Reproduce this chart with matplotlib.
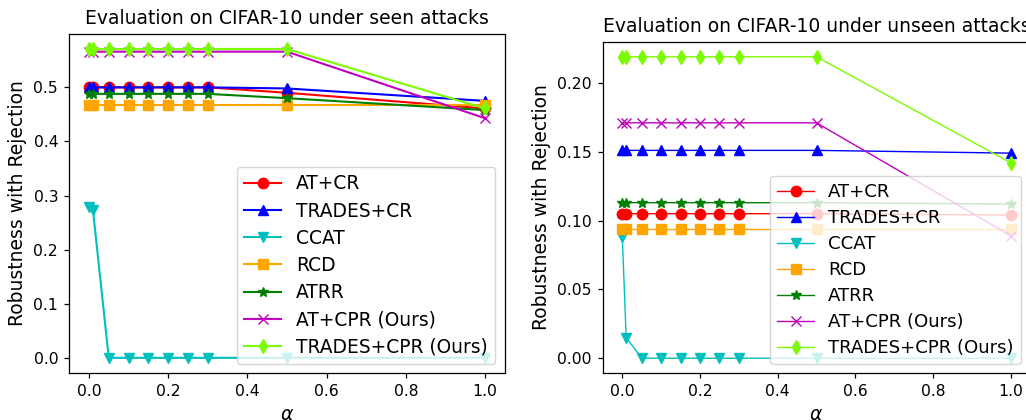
import numpy as np
import matplotlib
matplotlib.use('Agg')
import matplotlib.pyplot as plt

# alpha values on the x axis
alphas = [0, 0.01, 0.05, 0.1, 0.15, 0.2, 0.25, 0.3, 0.5, 1.0]

methods = ['AT+CR', 'TRADES+CR', 'CCAT', 'RCD', 'ATRR', 'AT+CPR (Ours)', 'TRADES+CPR (Ours)']

# seen attacks
seen_at_cr = [0.500, 0.500, 0.500, 0.500, 0.500, 0.500, 0.500, 0.500, 0.490, 0.461]
seen_trades_cr = [0.500, 0.500, 0.500, 0.500, 0.500, 0.500, 0.500, 0.500, 0.498, 0.475]
seen_ccat = [0.279, 0.274, 0.0, 0.0, 0.0, 0.0, 0.0, 0.0, 0.0, 0.0]
seen_rcd = [0.467, 0.467, 0.467, 0.467, 0.467, 0.467, 0.467, 0.467, 0.467, 0.467]
seen_atrr = [0.488, 0.488, 0.488, 0.488, 0.488, 0.488, 0.488, 0.488, 0.480, 0.458]
seen_at_cpr = [0.566, 0.566, 0.566, 0.566, 0.566, 0.566, 0.566, 0.566, 0.566, 0.443]
seen_trades_cpr = [0.571, 0.571, 0.571, 0.571, 0.571, 0.571, 0.571, 0.571, 0.571, 0.461]

# unseen attacks
unseen_at_cr = [0.105, 0.105, 0.105, 0.105, 0.105, 0.105, 0.105, 0.105, 0.105, 0.104]
unseen_trades_cr = [0.151, 0.151, 0.151, 0.151, 0.151, 0.151, 0.151, 0.151, 0.151, 0.149]
unseen_ccat = [0.088, 0.015, 0.0, 0.0, 0.0, 0.0, 0.0, 0.0, 0.0, 0.0]
unseen_rcd = [0.094, 0.094, 0.094, 0.094, 0.094, 0.094, 0.094, 0.094, 0.094, 0.094]
unseen_atrr = [0.113, 0.113, 0.113, 0.113, 0.113, 0.113, 0.113, 0.113, 0.113, 0.112]
unseen_at_cpr = [0.171, 0.171, 0.171, 0.171, 0.171, 0.171, 0.171, 0.171, 0.171, 0.089]
unseen_trades_cpr = [0.219, 0.219, 0.219, 0.219, 0.219, 0.219, 0.219, 0.219, 0.219, 0.142]

styles = [('r', 'o'), ('b', '^'), ('c', 'v'), ('orange', 's'), ('g', '*'), ('m', 'x'), ('lawngreen', 'd')]

# original looks like default style scaled by ~1.125
sc = 1.125
plt.rcParams['font.size'] = 10 * sc
plt.rcParams['xtick.major.size'] = 3.5 * sc
plt.rcParams['ytick.major.size'] = 3.5 * sc
plt.rcParams['xtick.major.pad'] = 3.5 * sc
plt.rcParams['ytick.major.pad'] = 3.5 * sc
plt.rcParams['xtick.major.width'] = 0.8 * sc
plt.rcParams['ytick.major.width'] = 0.8 * sc
plt.rcParams['axes.linewidth'] = 0.8 * sc
plt.rcParams['axes.labelpad'] = 4 * sc
plt.rcParams['axes.titlepad'] = 6 * sc

fig = plt.figure(figsize=(10.26, 4.2), dpi=100)
ax1 = fig.add_axes([0.0674, 0.1112, 0.4246, 0.809])
ax2 = fig.add_axes([0.5876, 0.1112, 0.4165, 0.7895])


def draw(ax, series, title, lw, legsize):
    for name, vals, (c, m) in zip(methods, series, styles):
        ax.plot(alphas, vals, color=c, marker=m, markersize=7.5, linewidth=lw, label=name)
    ax.set_title(title, fontsize=13.5)
    ax.set_xlabel(r'$\alpha$', fontsize=13.5)
    ax.set_ylabel('Robustness with Rejection', fontsize=13.5)
    ax.set_xlim(-0.05, 1.05)
    ax.legend(loc='lower right', fontsize=legsize, labelspacing=0.44)


draw(ax1, [seen_at_cr, seen_trades_cr, seen_ccat, seen_rcd, seen_atrr, seen_at_cpr, seen_trades_cpr],
     'Evaluation on CIFAR-10 under seen attacks', 1.5, 13.4)
draw(ax2, [unseen_at_cr, unseen_trades_cr, unseen_ccat, unseen_rcd, unseen_atrr, unseen_at_cpr, unseen_trades_cpr],
     'Evaluation on CIFAR-10 under unseen attacks', 1.0, 13.1)
ax1.set_yticks([0.0, 0.1, 0.2, 0.3, 0.4, 0.5])

fig.savefig('out.png', dpi=100)
